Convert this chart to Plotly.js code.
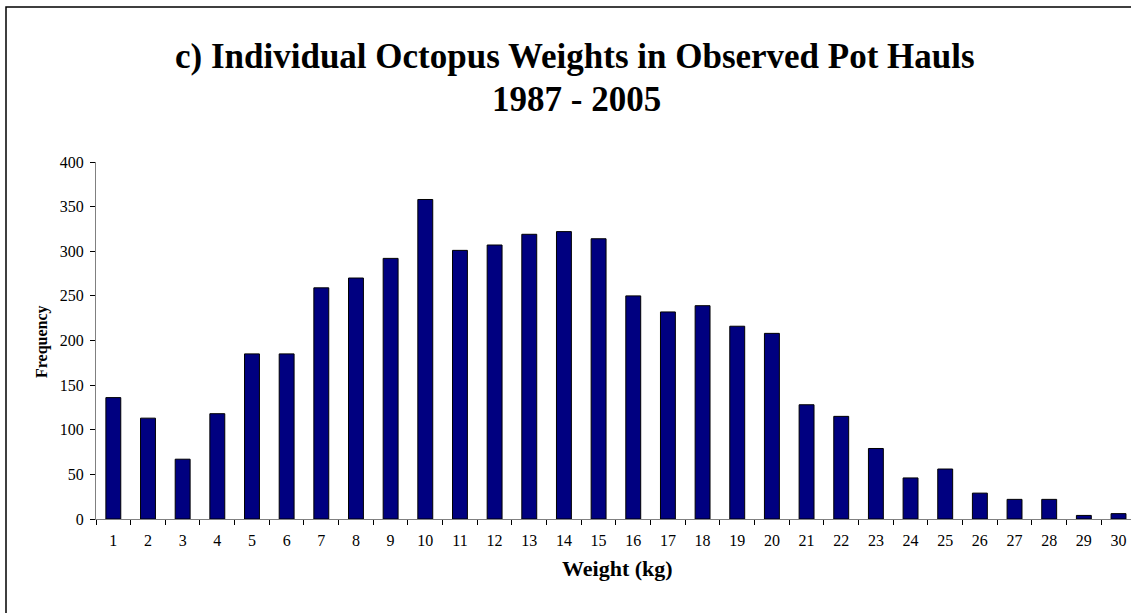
<!DOCTYPE html>
<html>
<head>
<meta charset="utf-8">
<script src="https://cdn.plot.ly/plotly-3.0.1.min.js"></script>
<style>
html,body{margin:0;padding:0;overflow:hidden;background:#fff;}
#chart{width:1131px;height:613px;}
</style>
</head>
<body>
<div id="chart"></div>
<script>
var weights = ["1","2","3","4","5","6","7","8","9","10","11","12","13","14","15","16","17","18","19","20","21","22","23","24","25","26","27","28","29","30"];
var frequency = [136,113,67,118,185,185,259,270,292,358,301,307,319,322,314,250,232,239,216,208,128,115,79,46,56,29,22,22,4,6];
var titleLine1 = "c) Individual Octopus Weights in Observed Pot Hauls";
var titleLine2 = "1987 - 2005";
var yTitle = "Frequency";
var xTitle = "Weight (kg)";

var font = "'Liberation Serif','Times New Roman',Times,serif";

var trace = {
  type: "bar",
  x: weights,
  y: frequency,
  width: 0.43,
  marker: {color: "#000080", line: {color: "#000000", width: 1}},
  hoverinfo: "x+y"
};

var layout = {
  width: 1131,
  height: 613,
  margin: {l: 96, r: 0, t: 162, b: 94, pad: 0},
  paper_bgcolor: "#ffffff",
  plot_bgcolor: "#ffffff",
  showlegend: false,
  font: {family: font, color: "#000", size: 16},
  xaxis: {
    type: "category",
    range: [-0.5, 29.36],
    tickson: "boundaries",
    ticks: "outside",
    ticklen: 5,
    tickcolor: "#000",
    ticklabelstandoff: 7,
    showline: true,
    linecolor: "#808080",
    linewidth: 1,
    showgrid: false,
    zeroline: false,
    tickfont: {family: font, size: 16, color: "#000"},
    fixedrange: true
  },
  yaxis: {
    range: [0, 400],
    dtick: 50,
    tick0: 0,
    ticks: "outside",
    ticklen: 5,
    tickcolor: "#000",
    ticklabelstandoff: 3,
    showline: true,
    linecolor: "#808080",
    linewidth: 1,
    showgrid: false,
    zeroline: false,
    tickfont: {family: font, size: 16, color: "#000"},
    fixedrange: true
  },
  annotations: [
    {text: "<b>" + titleLine1 + "</b>", xref: "paper", yref: "paper",
     x: (575 - 96) / 1035, y: (519 - 57) / 357, xanchor: "center", yanchor: "middle",
     showarrow: false, font: {family: font, size: 35, color: "#000"}},
    {text: "<b>" + titleLine2 + "</b>", xref: "paper", yref: "paper",
     x: (576 - 96) / 1035, y: (519 - 100) / 357, xanchor: "center", yanchor: "middle",
     showarrow: false, font: {family: font, size: 35, color: "#000"}},
    {text: "<b>" + yTitle + "</b>", xref: "paper", yref: "paper",
     x: (42 - 96) / 1035, y: (519 - 342) / 357, xanchor: "center", yanchor: "middle", textangle: -90,
     showarrow: false, font: {family: font, size: 16, color: "#000"}},
    {text: "<b>" + xTitle + "</b>", xref: "paper", yref: "paper",
     x: (617 - 96) / 1035, y: (519 - 568) / 357, xanchor: "center", yanchor: "middle",
     showarrow: false, font: {family: font, size: 22, color: "#000"}}
  ],
  shapes: [
    {type: "rect", xref: "paper", yref: "paper",
     x0: (6 - 96) / 1035, x1: (1140 - 96) / 1035,
     y0: (519 - 640) / 357, y1: (519 - 7) / 357,
     line: {color: "#000", width: 1.5}, fillcolor: "rgba(0,0,0,0)", layer: "below"}
  ]
};

Plotly.newPlot("chart", [trace], layout, {displayModeBar: false, staticPlot: true});
</script>
</body>
</html>
